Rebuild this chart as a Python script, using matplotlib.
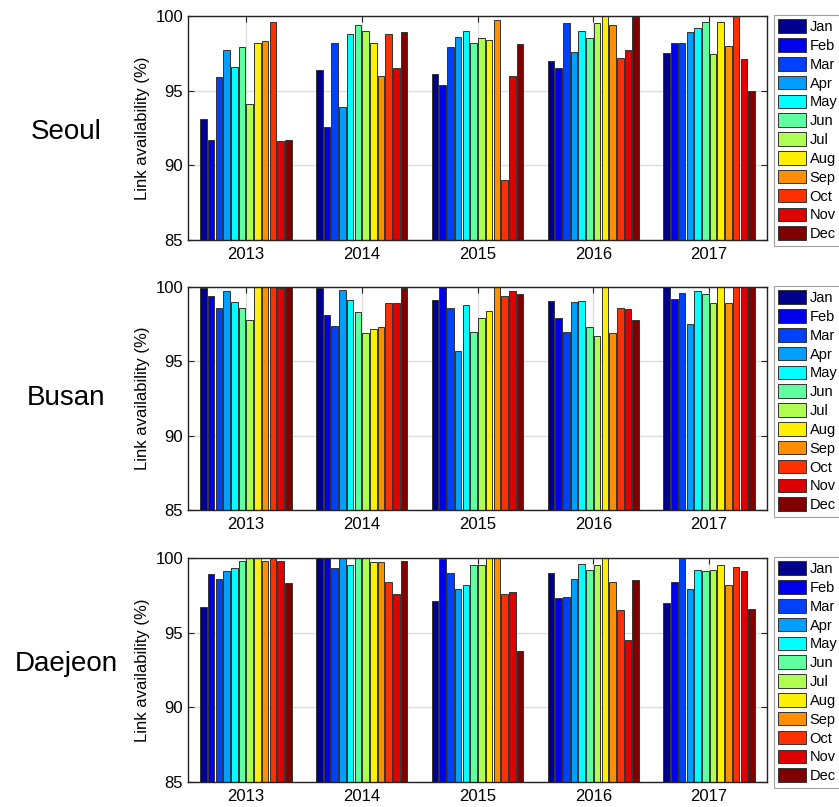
import numpy as np
import matplotlib
matplotlib.use('Agg')
import matplotlib.pyplot as plt

plt.rcParams['font.family'] = ['Liberation Sans', 'DejaVu Sans']

years = ['2013', '2014', '2015', '2016', '2017']
months = ['Jan', 'Feb', 'Mar', 'Apr', 'May', 'Jun',
          'Jul', 'Aug', 'Sep', 'Oct', 'Nov', 'Dec']

# monthly link availability (%), one row per year
seoul = [
    [93.1, 91.7, 95.9, 97.7, 96.6, 97.9, 94.1, 98.2, 98.3, 99.6, 91.6, 91.7],
    [96.4, 92.6, 98.2, 93.9, 98.8, 99.4, 99.0, 98.2, 96.0, 98.8, 96.5, 98.9],
    [96.1, 95.4, 97.9, 98.6, 99.0, 98.2, 98.5, 98.4, 99.75, 89.0, 96.0, 98.1],
    [97.0, 96.5, 99.5, 97.6, 99.0, 98.5, 99.55, 100.0, 99.4, 97.2, 97.7, 99.95],
    [97.5, 98.2, 98.2, 98.9, 99.2, 99.6, 97.45, 99.6, 98.0, 100.0, 97.1, 95.0],
]
busan = [
    [99.95, 99.4, 98.6, 99.7, 99.0, 98.6, 97.8, 100.0, 100.0, 100.0, 99.9, 100.0],
    [99.9, 98.1, 97.4, 99.8, 99.1, 98.3, 96.9, 97.2, 97.3, 98.9, 98.95, 99.9],
    [99.1, 100.0, 98.6, 95.7, 98.8, 97.0, 97.9, 98.4, 100.0, 99.4, 99.7, 99.5],
    [99.05, 97.9, 97.0, 99.0, 99.05, 97.3, 96.7, 100.0, 96.9, 98.6, 98.55, 97.8],
    [100.0, 99.2, 99.6, 97.5, 99.7, 99.5, 98.95, 100.0, 98.95, 100.0, 100.0, 100.0],
]
daejeon = [
    [96.7, 98.95, 98.6, 99.15, 99.3, 99.8, 100.0, 100.0, 99.8, 100.0, 99.8, 98.3],
    [100.0, 100.0, 99.3, 100.0, 99.5, 100.0, 100.0, 99.7, 99.7, 98.4, 97.6, 99.8],
    [97.1, 99.9, 99.0, 97.9, 98.2, 99.55, 99.55, 100.0, 100.0, 97.6, 97.7, 93.8],
    [99.0, 97.3, 97.4, 98.6, 99.6, 99.2, 99.5, 100.0, 98.4, 96.5, 94.5, 98.5],
    [97.0, 98.4, 100.0, 97.95, 99.2, 99.1, 99.2, 99.55, 98.2, 99.4, 99.1, 96.6],
]

cities = ['Seoul', 'Busan', 'Daejeon']
city_data = [seoul, busan, daejeon]

# jet-like month colours (picked from a 64-step jet map)
colors = [
    (0, 0, 0.5625), (0, 0, 0.9375), (0, 0.25, 1), (0, 0.625, 1),
    (0, 1, 1), (0.375, 1, 0.625), (0.6875, 1, 0.3125), (1, 0.9375, 0),
    (1, 0.5625, 0), (1, 0.1875, 0), (0.875, 0, 0), (0.5, 0, 0),
]

W, H = 839, 807
fig = plt.figure(figsize=(W / 100, H / 100), dpi=100)

# axes boxes in pixels: (left, top, right, bottom)
boxes = [(188, 16, 767, 240), (188, 287, 767, 510), (188, 558, 767, 782)]
label_y = [132, 398, 664]

group_w = 0.8
slot = group_w / len(months)
xpos = np.arange(1, len(years) + 1)

for city, data, (l, t, r, b), ly in zip(cities, city_data, boxes, label_y):
    ax = fig.add_axes([l / W, 1 - b / H, (r - l) / W, (b - t) / H])
    vals = np.array(data)
    for m in range(len(months)):
        off = (m - (len(months) - 1) / 2) * slot
        ax.bar(xpos + off, vals[:, m], width=slot * 0.85, color=colors[m],
               edgecolor='#333333', linewidth=0.7, label=months[m], zorder=2)
    ax.set_xlim(0.5, 5.5)
    ax.set_ylim(85, 100)
    ax.set_xticks(xpos)
    ax.set_xticklabels(years, fontsize=12)
    ax.set_yticks([85, 90, 95, 100])
    ax.tick_params(axis='y', labelsize=12)
    ax.tick_params(axis='x', pad=5)
    ax.tick_params(direction='in', top=True, right=True, length=4, color='#222222')
    ax.grid(True, color='#dddddd', linewidth=1)
    ax.set_axisbelow(True)
    for s in ax.spines.values():
        s.set_color('#222222')
        s.set_linewidth(1)
    ax.set_ylabel('Link availability (%)', fontsize=12, labelpad=4)

    fig.text(66 / W, 1 - ly / H, city, fontsize=20,
             ha='center', va='center')

    leg = ax.legend(loc='upper left', bbox_to_anchor=(774 / W, 1 - (t - 1) / H),
                    bbox_transform=fig.transFigure, fontsize=10.5,
                    frameon=True, fancybox=False, edgecolor='#888888',
                    handlelength=1.9, handleheight=1.05, handletextpad=0.25,
                    labelspacing=0.28, borderpad=0.3, borderaxespad=0)
    leg.get_frame().set_linewidth(0.8)

fig.savefig('out.png', dpi=100)
